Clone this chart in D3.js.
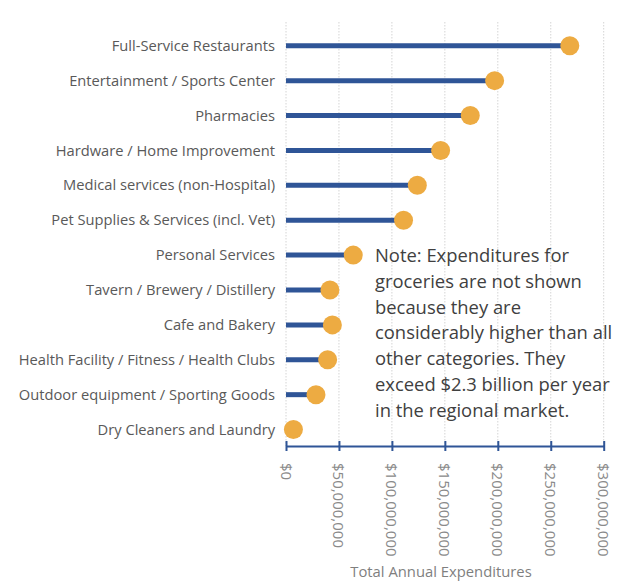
<!DOCTYPE html>
<html><head><meta charset="utf-8">
<script src="https://cdn.jsdelivr.net/npm/d3@7"></script>
<style>body{margin:0;background:#fff;} svg{display:block;}</style>
</head><body>
<svg id="c" width="623" height="582"></svg>
<script>
const categories = [
  "Full-Service Restaurants",
  "Entertainment / Sports Center",
  "Pharmacies",
  "Hardware / Home Improvement",
  "Medical services (non-Hospital)",
  "Pet Supplies & Services (incl. Vet)",
  "Personal Services",
  "Tavern / Brewery / Distillery",
  "Cafe and Bakery",
  "Health Facility / Fitness / Health Clubs",
  "Outdoor equipment / Sporting Goods",
  "Dry Cleaners and Laundry"
];
const values = [268e6, 197e6, 174e6, 146e6, 124e6, 111e6, 63.5e6, 41.5e6, 43.8e6, 39.3e6, 28.3e6, 7e6];
const tickValues = [0, 50e6, 100e6, 150e6, 200e6, 250e6, 300e6];
const noteLines = [
  "Note: Expenditures for",
  "groceries are not shown",
  "because they are",
  "considerably higher than all",
  "other categories. They",
  "exceed $2.3 billion per year",
  "in the regional market."
];
const axisTitle = "Total Annual Expenditures";

const svg = d3.select("#c");
const font = "'Open Sans', sans-serif";
const x = d3.scaleLinear().domain([0, 300e6]).range([286, 603.7]);
const y = d3.scaleBand().domain(categories).range([28.3, 447]).paddingInner(0).paddingOuter(0);
const yc = d => y(d) + y.bandwidth() / 2;
const axisY = 446;

// gridlines
svg.append("g").selectAll("line").data(tickValues).join("line")
  .attr("x1", d => x(d)).attr("x2", d => x(d))
  .attr("y1", 22).attr("y2", axisY)
  .attr("stroke", "#d4d4d4").attr("stroke-width", 1)
  .attr("stroke-dasharray", "1.5,1.5");

// axis
const xAxis = d3.axisBottom(x).tickValues(tickValues).tickSizeInner(5).tickSizeOuter(0)
  .tickFormat(d => "$" + d3.format(",")(d));
const gAx = svg.append("g").attr("transform", `translate(0,${axisY})`).call(xAxis);
gAx.select(".domain").attr("stroke", "#2F5597").attr("stroke-width", 2);
gAx.selectAll(".tick line").attr("stroke", "#2F5597").attr("stroke-width", 2).attr("y1", -5).attr("y2", 5);
gAx.selectAll(".tick text")
  .attr("font-family", font).attr("font-size", 15).attr("fill", "#8a8a8a")
  .attr("text-anchor", "start").attr("dy", null)
  .attr("transform", "translate(0,17) rotate(90)")
  .attr("x", 0).attr("y", 0)
  .attr("dominant-baseline", "central");

// stems
svg.append("g").selectAll("line").data(categories).join("line")
  .attr("x1", x(0)).attr("x2", (d, i) => x(values[i]))
  .attr("y1", d => yc(d)).attr("y2", d => yc(d))
  .attr("stroke", "#2F5597").attr("stroke-width", 5);

// dots
svg.append("g").selectAll("circle").data(categories).join("circle")
  .attr("cx", (d, i) => x(values[i])).attr("cy", d => yc(d))
  .attr("r", 9.5).attr("fill", "#EDAB42");

// category labels
svg.append("g").selectAll("text").data(categories).join("text")
  .attr("x", 275).attr("y", d => yc(d)).attr("dy", "0.35em")
  .attr("text-anchor", "end").attr("font-family", font).attr("font-size", 14.7)
  .attr("fill", "#595959").text(d => d);

// note
svg.append("g").selectAll("text").data(noteLines).join("text")
  .attr("x", 375).attr("y", (d, i) => 262 + i * 25.8)
  .attr("font-family", font).attr("font-size", 18.4).attr("fill", "#404040")
  .text(d => d);

// axis title
svg.append("text").attr("x", 441).attr("y", 577).attr("text-anchor", "middle")
  .attr("font-family", font).attr("font-size", 14.8).attr("fill", "#7f7f7f").text(axisTitle);
</script>
</body></html>
